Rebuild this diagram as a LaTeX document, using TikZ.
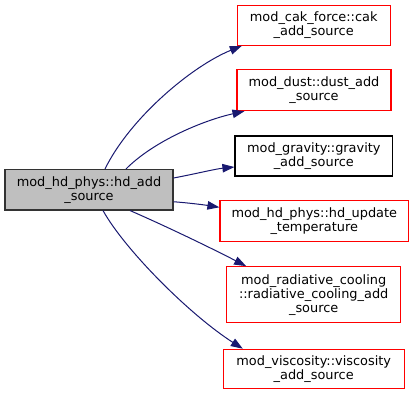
\documentclass[tikz,border=0pt]{standalone}
\usepackage{fontspec}
\setmainfont{DejaVu Sans}
\usetikzlibrary{arrows.meta}
\definecolor{edgeblue}{HTML}{191970}
\definecolor{boxred}{HTML}{FF0000}
\definecolor{mainfill}{HTML}{BFBFBF}
\tikzset{
  fbox/.style={draw=boxred, line width=1.1pt, fill=white, inner sep=0pt, align=center,
    font=\fontsize{12.9pt}{14pt}\selectfont},
  gbox/.style={fbox, draw=black},
  mbox/.style={fbox, draw=black!80, fill=mainfill},
  edge/.style={draw=edgeblue, line width=1pt, -{Triangle[length=12pt,width=8.5pt]}}
}
\begin{document}
\begin{tikzpicture}[x=1pt,y=1pt]
\useasboundingbox (0,0) rectangle (413,-395);
\node[mbox, minimum width=168pt, minimum height=40.5pt] (main) at (89,-189.75) {mod\_hd\_phys::hd\_add\\\_source};
\node[fbox, minimum width=152.7pt, minimum height=40pt] (cak) at (313.7,-25.3) {mod\_cak\_force::cak\\\_add\_source};
\node[fbox, minimum width=154pt, minimum height=40.7pt] (dust) at (314,-90.3) {mod\_dust::dust\_add\\\_source};
\node[gbox, minimum width=157.7pt, minimum height=40pt] (grav) at (313.8,-156) {mod\_gravity::gravity\\\_add\_source};
\node[fbox, minimum width=188.7pt, minimum height=40.7pt] (upd) at (314.3,-221.3) {mod\_hd\_phys::hd\_update\\\_temperature};
\node[fbox, minimum width=174pt, minimum height=56pt] (rad) at (313.7,-294.7) {mod\_radiative\_cooling\\::radiative\_cooling\_add\\\_source};
\node[fbox, minimum width=180.7pt, minimum height=39pt] (visc) at (313.7,-368.8) {mod\_viscosity::viscosity\\\_add\_source};

\draw[edge] ([xshift=16pt]main.north) .. controls (130,-118) and (192,-66) .. ([xshift=5pt]cak.south west);
\draw[edge] ([xshift=37pt]main.north) .. controls (155,-140) and (205,-120) .. ([xshift=8pt]dust.south west);
\draw[edge] ([yshift=11.75pt]main.east) .. controls (195,-174) and (215,-169) .. ([yshift=-11pt]grav.west);
\draw[edge] ([yshift=-12pt]main.east) .. controls (190,-203) and (205,-205) .. ([yshift=14pt]upd.west);
\draw[edge] ([xshift=41pt]main.south) .. controls (170,-228) and (215,-250) .. ([xshift=20pt]rad.north west);
\draw[edge] ([xshift=14pt]main.south) .. controls (125,-250) and (190,-315) .. ([xshift=20pt]visc.north west);
\end{tikzpicture}
\end{document}
